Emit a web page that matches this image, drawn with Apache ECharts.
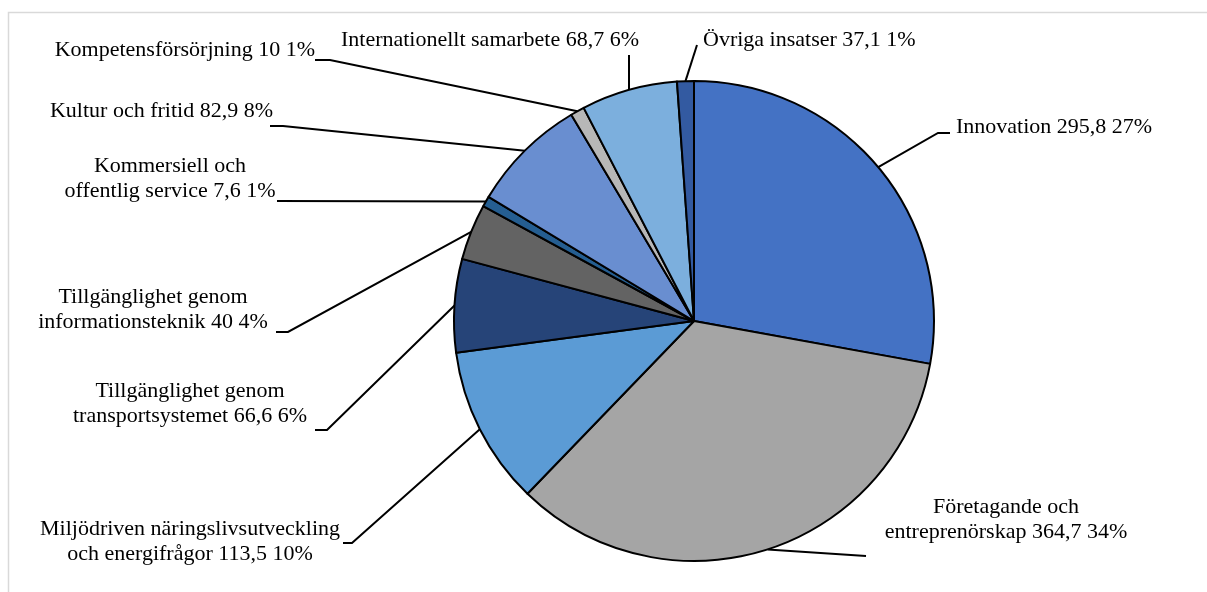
<!DOCTYPE html>
<html>
<head>
<meta charset="utf-8">
<script src="https://cdn.jsdelivr.net/npm/echarts@6/dist/echarts.min.js"></script>
<style>
  html, body { margin: 0; padding: 0; background: #ffffff; }
  #chart { width: 1207px; height: 592px; }
</style>
</head>
<body>
<div id="chart"></div>
<script>
// ---- Data ----
const categories = [
  'Innovation',
  'Företagande och\nentreprenörskap',
  'Miljödriven näringslivsutveckling\noch energifrågor',
  'Tillgänglighet genom\ntransportsystemet',
  'Tillgänglighet genom\ninformationsteknik',
  'Kommersiell och\noffentlig service',
  'Kultur och fritid',
  'Kompetensförsörjning',
  'Internationellt samarbete',
  'Övriga insatser'
];
// slice sizes as drawn in the picture
const sliceValues = [295.8, 364.7, 113.5, 66.6, 40, 7.6, 82.9, 10, 68.7, 12];
// value text printed in each label
const labelValues = ['295,8', '364,7', '113,5', '66,6', '40', '7,6', '82,9', '10', '68,7', '37,1'];
// percentage text printed in each label
const percentLabels = ['27%', '34%', '10%', '6%', '4%', '1%', '8%', '1%', '6%', '1%'];

// ---- Styles ----
const colors = ['#4472C4', '#A5A5A5', '#5B9BD5', '#264478', '#636363',
                '#255E91', '#698ED0', '#B7B7B7', '#7CAFDD', '#335AA1'];

// label placement: text anchor (x,y,align) and leader-line end (ex,ey) with optional elbow x (bx)
const labelPlacement = [
  { x: 956,  y: 127, align: 'left',   ex: 950, ey: 133, bx: 938 },
  { x: 1006, y: 520, align: 'center', ex: 866, ey: 556, bx: null },
  { x: 190,  y: 542, align: 'center', ex: 343, ey: 543, bx: 352 },
  { x: 190,  y: 404, align: 'center', ex: 315, ey: 430, bx: 327 },
  { x: 153,  y: 310, align: 'center', ex: 276, ey: 332, bx: 288 },
  { x: 170,  y: 179, align: 'center', ex: 277, ey: 201, bx: null },
  { x: 273,  y: 111, align: 'right',  ex: 270, ey: 126, bx: 283 },
  { x: 315,  y: 50,  align: 'right',  ex: 315, ey: 60,  bx: 330 },
  { x: 490,  y: 40,  align: 'center', ex: 629, ey: 55,  bx: null },
  { x: 703,  y: 40,  align: 'left',   ex: 697, ey: 45,  bx: null }
];

const seriesData = categories.map((name, i) => ({
  name: name,
  value: sliceValues[i],
  itemStyle: { color: colors[i] }
}));

const chart = echarts.init(document.getElementById('chart'), null, { renderer: 'canvas' });

chart.setOption({
  backgroundColor: '#ffffff',
  animation: false,
  graphic: [{
    type: 'rect',
    shape: { x: 8.5, y: 12.5, width: 1220, height: 600 },
    style: { fill: 'none', stroke: '#d9d9d9', lineWidth: 1.5 },
    z: 0
  }],
  series: [{
    type: 'pie',
    center: [694, 321],
    radius: [0, 240],
    startAngle: 90,
    clockwise: true,
    avoidLabelOverlap: false,
    data: seriesData,
    itemStyle: { borderColor: '#000000', borderWidth: 2 },
    label: {
      show: true,
      position: 'outside',
      color: '#000000',
      fontFamily: '"Liberation Serif", "DejaVu Serif", serif',
      fontSize: 22,
      lineHeight: 25,
      formatter: function (p) {
        const i = p.dataIndex;
        return categories[i] + ' ' + labelValues[i] + ' ' + percentLabels[i];
      }
    },
    labelLine: {
      show: true,
      length: 10,
      length2: 10,
      smooth: false,
      lineStyle: { color: '#000000', width: 2 }
    },
    labelLayout: function (params) {
      const pl = labelPlacement[params.dataIndex];
      const anchor = params.labelLinePoints ? params.labelLinePoints[0] : [pl.ex, pl.ey];
      const end = [pl.ex, pl.ey];
      const elbow = pl.bx == null ? end : [pl.bx, pl.ey];
      return {
        x: pl.x,
        y: pl.y,
        align: pl.align,
        verticalAlign: 'middle',
        labelLinePoints: [anchor, elbow, end]
      };
    },
    emphasis: { disabled: true }
  }]
});
</script>
</body>
</html>
